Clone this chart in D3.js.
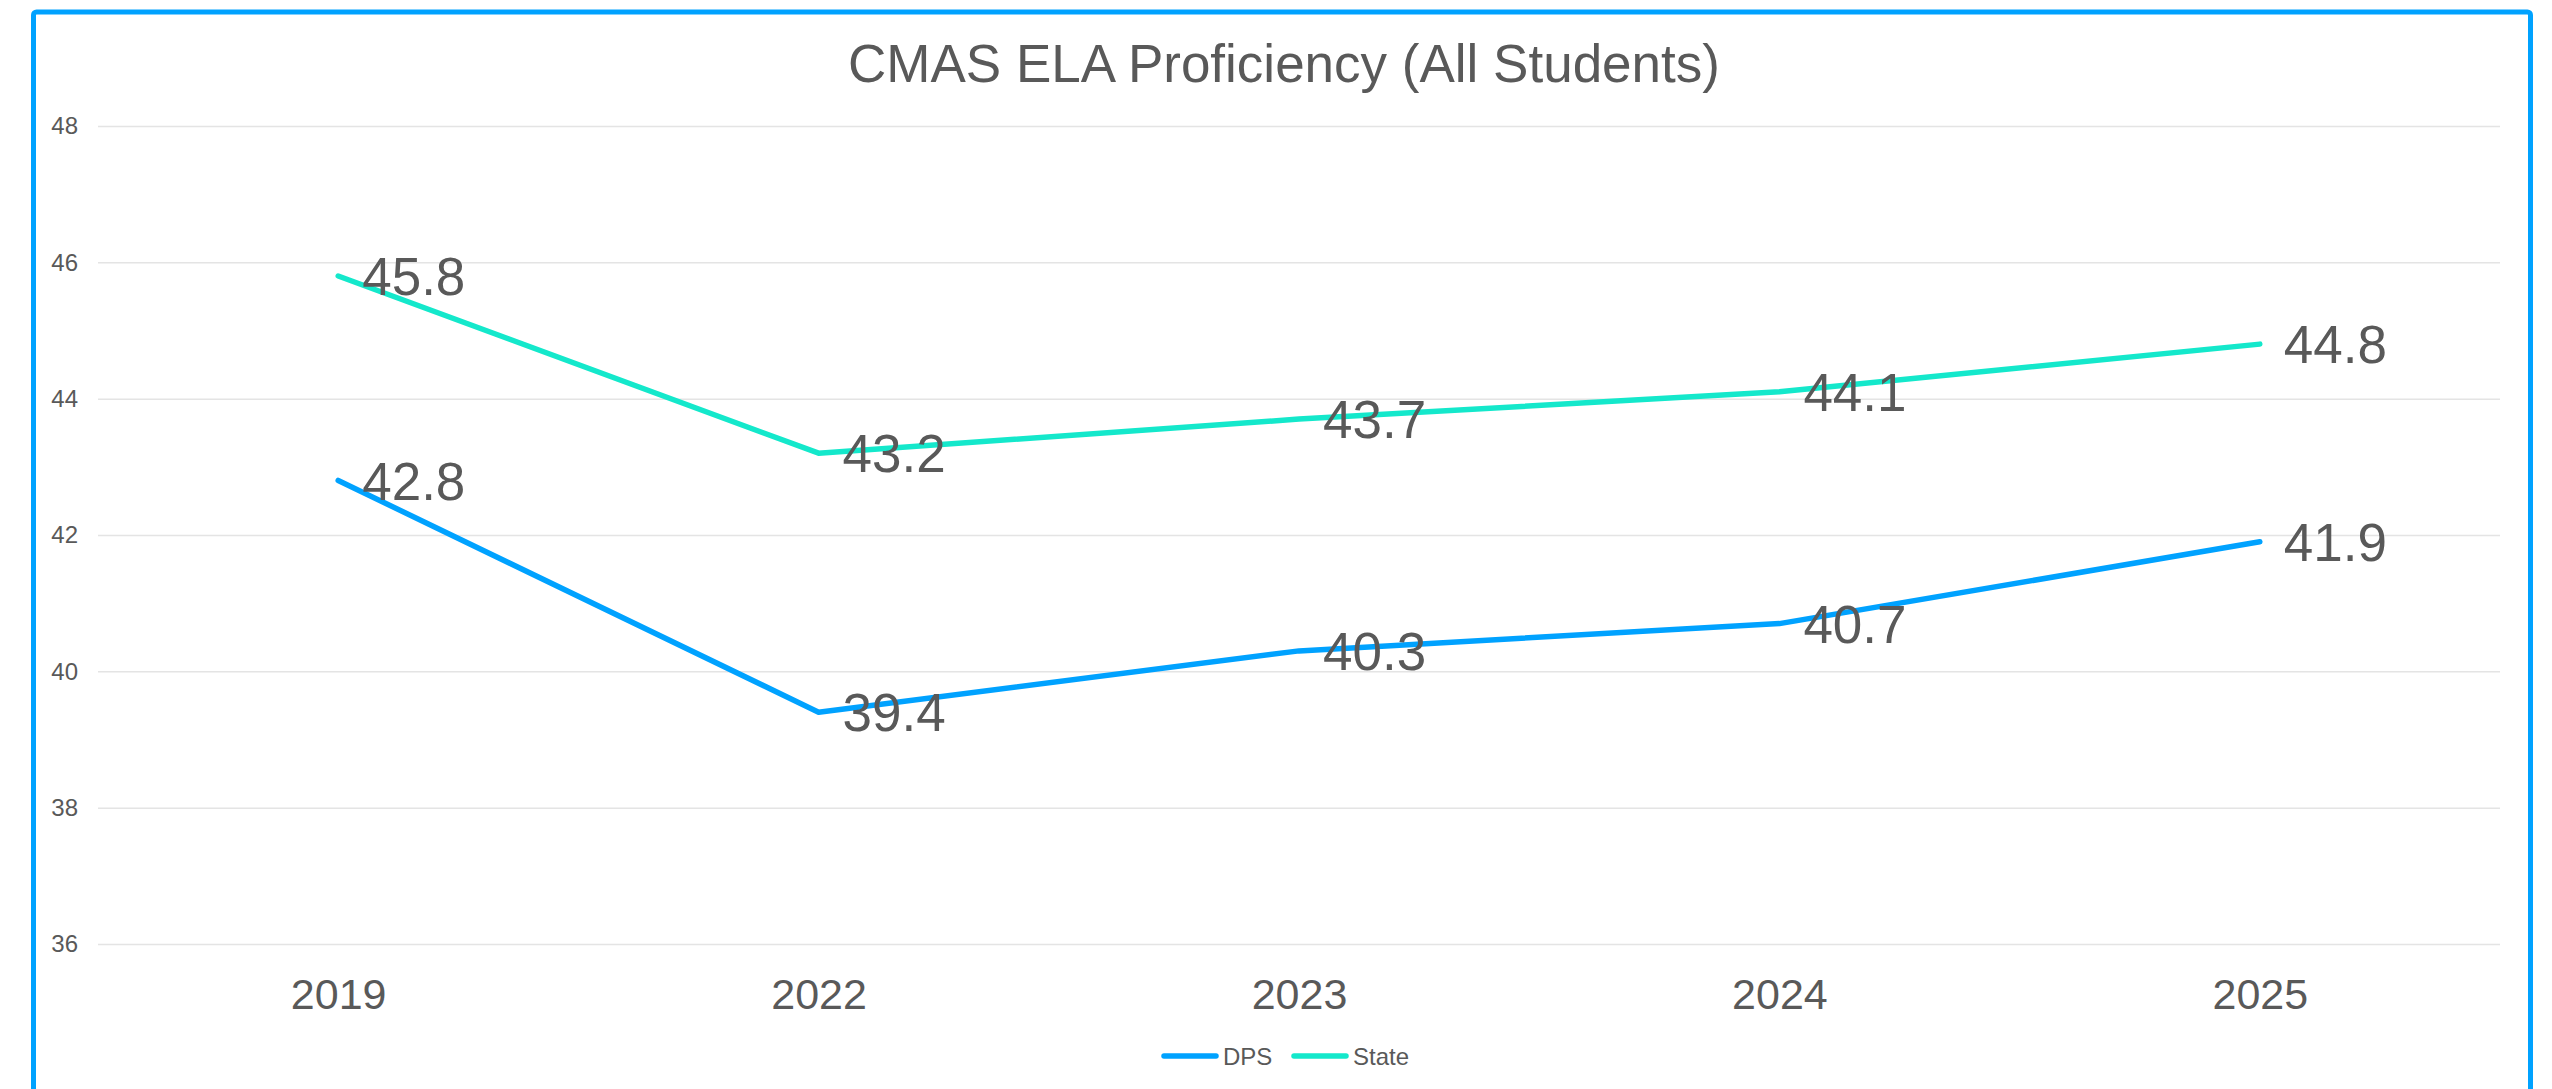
<!DOCTYPE html>
<html>
<head>
<meta charset="utf-8">
<script src="https://cdn.jsdelivr.net/npm/d3@7"></script>
<style>
    body { margin: 0; background: #fff; }
    svg { display: block; font-family: "Liberation Sans", Arial, sans-serif; }
</style>
</head>
<body>
<div id="chart"></div>
<script>
const years = ['2019', '2022', '2023', '2024', '2025'];
const dpsValues = [42.8, 39.4, 40.3, 40.7, 41.9];
const stateValues = [45.8, 43.2, 43.7, 44.1, 44.8];
const yTicks = [36, 38, 40, 42, 44, 46, 48];

const colorDps = '#00A2FF', colorState = '#14E8CB', textColor = '#595959';

const width = 2552, height = 1089;
const plotLeft = 98, plotRight = 2500, plotTop = 126, plotBottom = 944;

const svg = d3.select('#chart')
    .append('svg')
    .attr('width', width)
    .attr('height', height);

/* outer frame */
svg.append('rect')
    .attr('x', 33.5)
    .attr('y', 12)
    .attr('width', 2497)
    .attr('height', 1100)
    .attr('rx', 3)
    .attr('fill', '#fff')
    .attr('stroke', colorDps)
    .attr('stroke-width', 5);

/* title */
svg.append('text')
    .text('CMAS ELA Proficiency (All Students)')
    .attr('x', 1284)
    .attr('y', 82)
    .attr('text-anchor', 'middle')
    .attr('font-size', 53)
    .attr('fill', textColor);

const xScale = d3.scalePoint()
    .domain(years)
    .range([plotLeft, plotRight])
    .padding(0.5);

const yScale = d3.scaleLinear()
    .domain([36, 48])
    .range([plotBottom, plotTop]);

/* y gridlines + labels */
const yAxis = svg.append('g')
    .attr('transform', `translate(${plotLeft},0)`)
    .call(d3.axisLeft(yScale)
        .tickValues(yTicks)
        .tickSize(-(plotRight - plotLeft))
        .tickPadding(20)
        .tickFormat(d3.format('d')));
yAxis.select('.domain').remove();
yAxis.selectAll('line')
    .attr('stroke', '#E4E4E4')
    .attr('stroke-width', 1.5);
yAxis.selectAll('text')
    .attr('font-size', 24)
    .attr('font-family', '"Liberation Sans", Arial, sans-serif')
    .attr('fill', textColor);

/* x labels */
const xAxis = svg.append('g')
    .attr('transform', `translate(0,${plotBottom})`)
    .call(d3.axisBottom(xScale).tickSize(0).tickPadding(34));
xAxis.select('.domain').remove();
xAxis.selectAll('text')
    .attr('font-size', 43)
    .attr('font-family', '"Liberation Sans", Arial, sans-serif')
    .attr('fill', textColor);

const series = [
    { name: 'DPS', values: dpsValues, color: colorDps },
    { name: 'State', values: stateValues, color: colorState }
];

const line = d3.line()
    .x((d, i) => xScale(years[i]))
    .y(d => yScale(d));

series.forEach(s => {
    svg.append('path')
        .datum(s.values)
        .attr('fill', 'none')
        .attr('stroke', s.color)
        .attr('stroke-width', 5.5)
        .attr('stroke-linejoin', 'round')
        .attr('stroke-linecap', 'round')
        .attr('d', line);
});

/* data labels, drawn on top of both lines */
series.forEach(s => {
    svg.append('g')
        .selectAll('text')
        .data(s.values)
        .join('text')
        .text(d => d.toFixed(1))
        .attr('x', (d, i) => xScale(years[i]) + 24)
        .attr('y', d => yScale(d))
        .attr('dy', '0.36em')
        .attr('font-size', 53)
        .attr('fill', textColor);
});

/* legend */
const legendItems = [
    { name: 'DPS', color: colorDps, x: 1162 },
    { name: 'State', color: colorState, x: 1292 }
];
legendItems.forEach(l => {
    svg.append('line')
        .attr('x1', l.x + 2)
        .attr('x2', l.x + 54)
        .attr('y1', 1056)
        .attr('y2', 1056)
        .attr('stroke', l.color)
        .attr('stroke-width', 5.5)
        .attr('stroke-linecap', 'round');
    svg.append('text')
        .text(l.name)
        .attr('x', l.x + 61)
        .attr('y', 1065)
        .attr('font-size', 24)
        .attr('fill', textColor);
});
</script>
</body>
</html>
